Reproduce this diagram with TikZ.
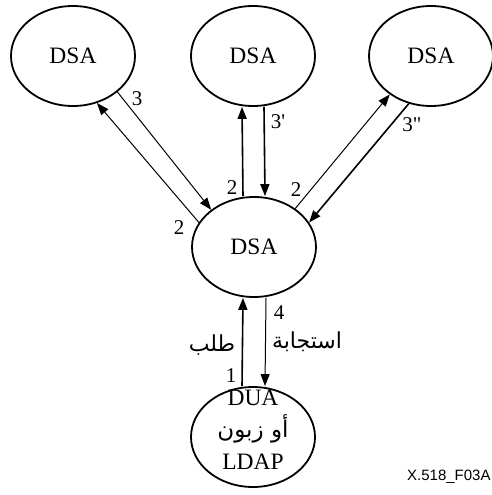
\documentclass[tikz,border=0pt]{standalone}
\usepackage{fontspec}
\setmainfont{Liberation Serif}
\newfontfamily\primefont{Liberation Serif}[Ligatures=TeXOff]
\newfontfamily\arabicfont[Script=Arabic]{DejaVu Sans}
\newfontfamily\tagfont{Liberation Sans}
\TeXXeTstate=1
\usetikzlibrary{shapes.geometric,arrows.meta}
\begin{document}
\begin{tikzpicture}[x=1pt,y=-1pt,
  agent/.style={ellipse,draw,line width=1.8pt,minimum width=124pt,minimum height=100pt,
    inner sep=0pt,font=\fontsize{23.5}{28}\selectfont},
  num/.style={inner sep=0pt,font=\fontsize{21}{24}\selectfont},
  arlabel/.style={inner sep=0pt,font=\arabicfont\fontsize{22}{24}\selectfont},
  arr/.style={-{Triangle[length=12pt,width=9pt]}},
  thin link/.style={arr,line width=1pt},
  bold link/.style={arr,line width=1.6pt}]
\useasboundingbox (0,0) rectangle (492,495);

% directory system agents
\node[agent] (dsaL) at (73,56) {DSA};
\node[agent] (dsaM) at (253,56) {DSA};
\node[agent] (dsaR) at (431,56) {DSA};
\node[agent] (dsaC) at (254,247) {DSA};

% user agent / LDAP client
\node[agent] (dua) at (253,437) {};
\node[align=center,inner sep=0pt,font=\fontsize{23.5}{32}\selectfont] (duatext) at (253,430)
  {DUA\\{\arabicfont\fontsize{23}{32}\selectfont\beginR أو زبون\endR}\\LDAP};

% chaining between DSAs
\draw[thin link] (dsaC.156) -- (dsaL.-63);
\draw[thin link] (dsaL.-39) -- (dsaC.139);
\draw[bold link] ([xshift=-11pt]dsaC.north) -- ([xshift=-11pt]dsaM.south);
\draw[bold link] ([xshift=11pt]dsaM.south) -- ([xshift=11pt]dsaC.north);
\draw[thin link] (dsaC.43) -- (dsaR.-137);
\draw[bold link] (dsaR.-115) -- (dsaC.24);

% request and response
\draw[bold link] ([xshift=-11pt]dua.north) -- ([xshift=-11pt]dsaC.south);
\draw[thin link] ([xshift=12pt]dsaC.south) -- ([xshift=12pt]dua.north);

% step numbers
\node[num] (n3)   at (137,99)  {3};
\node[num] (n2a)  at (179,228) {2};
\node[num] (n2b)  at (232,188) {2};
\node[num] (n3p)  at (278,122) {\primefont 3'};
\node[num] (n2c)  at (296,190) {2};
\node[num] (n3pp) at (412,125) {\primefont 3"};
\node[num] (n4)   at (279,313) {4};
\node[num] (n1)   at (231,376) {1};

\node[arlabel] (resp) at (307,342) {\beginR استجابة\endR};
\node[arlabel] (req)  at (212,345) {\beginR طلب\endR};

\node[anchor=west,inner sep=0pt,font=\tagfont\fontsize{15}{17}\selectfont] (fig) at (407,477) {X.518\_F03A};
\end{tikzpicture}
\end{document}
